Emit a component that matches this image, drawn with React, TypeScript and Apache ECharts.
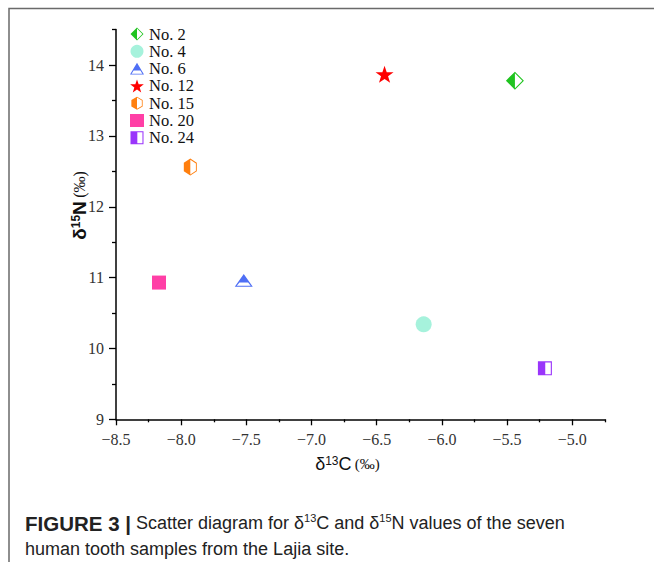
import React, { useEffect, useRef } from "react";
import * as echarts from "echarts";

// ---- data ----
const sampleNames = ["No. 2", "No. 4", "No. 6", "No. 12", "No. 15", "No. 20", "No. 24"];
const d13C = [-5.44, -6.14, -7.52, -6.44, -7.93, -8.17, -5.21];
const d15N = [13.78, 10.34, 10.96, 13.87, 12.56, 10.93, 9.72];
const xTicks = [-8.5, -8.0, -7.5, -7.0, -6.5, -6.0, -5.5, -5.0];
const yTicks = [9, 10, 11, 12, 13, 14];

// ---- styles ----
const sampleColors = ["#1fc41f", "#a6f2dc", "#4f6ff5", "#ff0000", "#ff7f0e", "#ff3fa6", "#9a35fb"];

function starPath(): string {
  const pts: string[] = [];
  for (let i = 0; i < 10; i++) {
    const r = i % 2 === 0 ? 10 : 3.9;
    const a = -Math.PI / 2 + (i * Math.PI) / 5;
    pts.push(`${(10 + r * Math.cos(a)).toFixed(2)} ${(10 + r * Math.sin(a)).toFixed(2)}`);
  }
  return "path://M" + pts.join("L") + "Z";
}

const diamondHalf = "path://M10 0L20 10L10 20L0 10Z M10 1.7L10 18.3L18.3 10Z";
const triangleHalf = "path://M10 0L20 17L0 17Z M5.2 11.2L2.3 15.7L17.7 15.7L14.8 11.2Z";
const hexHalf =
  "path://M8.66 0L17.32 5L17.32 15L8.66 20L0 15L0 5Z M8.66 1.4L8.66 18.6L16.12 14.31L16.12 5.69Z";
const squareHalf = "path://M0 0L20 0L20 20L0 20Z M10.5 1.6L10.5 18.4L18.4 18.4L18.4 1.6Z";

const sampleSymbols = [diamondHalf, "circle", triangleHalf, starPath(), hexHalf, "rect", squareHalf];
const sampleSizes: any[] = [[18, 18], 16, [18, 15], 18, [15, 17], 14, [14, 14]];

const SERIF = "'Liberation Serif', 'Times New Roman', serif";
const SANS = "'Liberation Sans', Arial, sans-serif";

const fmtNum = (v: number) => (v < 0 ? "\u2212" : "") + Math.abs(v).toFixed(1);

const nameRich = (bold: boolean, size: number) => ({
  d: { fontFamily: SANS, fontSize: size, color: "#111", fontWeight: bold ? "bold" : "normal" },
  s: {
    fontFamily: SANS,
    fontSize: Math.round(size * 0.65),
    color: "#111",
    verticalAlign: "top",
    lineHeight: Math.round(size * 0.75),
    fontWeight: bold ? "bold" : "normal",
  },
  p: { fontFamily: SERIF, fontSize: size - 3, color: "#111" },
});

const option: any = {
  animation: false,
  backgroundColor: "#ffffff",
  grid: { left: 116, right: 49, top: 29.6, bottom: 142.7, outerBoundsMode: "none", containLabel: false },
  legend: {
    orient: "vertical",
    left: 130,
    top: 25.5,
    padding: 0,
    itemWidth: 14,
    itemHeight: 13,
    itemGap: 0.3,
    itemTextGap: 6,
    textStyle: { fontFamily: SERIF, fontSize: 16.5, color: "#111" },
    data: sampleNames.map((n, i) => ({ name: n, icon: sampleSymbols[i] })),
  },
  xAxis: {
    type: "value",
    min: -8.5,
    max: -4.749,
    interval: 0.5,
    name: "{d|δ}{s|13}{d|C} {p|(‰)}",
    nameLocation: "middle",
    nameGap: 36,
    nameMoveOverlap: false,
    nameTextStyle: { rich: nameRich(false, 18), padding: [0, 26, 0, 0] },
    axisLine: { show: true, onZero: false, lineStyle: { color: "#000", width: 1.5 } },
    axisTick: { show: true, length: 6, customValues: xTicks, lineStyle: { color: "#000", width: 1.3 } },
    minorTick: { show: true, splitNumber: 2, length: 3, lineStyle: { color: "#000", width: 1.3 } },
    axisLabel: {
      customValues: xTicks,
      margin: 12,
      formatter: (v: number) => fmtNum(v),
      fontFamily: SERIF,
      fontSize: 16,
      color: "#333",
    },
    splitLine: { show: false },
    minorSplitLine: { show: false },
  },
  yAxis: {
    type: "value",
    min: 9,
    max: 14.501,
    interval: 1,
    name: "{d|δ}{s|15}{d|N} {p|(‰)}",
    nameLocation: "middle",
    nameRotate: 90,
    nameGap: 27,
    nameMoveOverlap: false,
    nameTextStyle: { rich: nameRich(true, 19), padding: [0, 0, 0, 38] },
    axisLine: { show: true, onZero: false, lineStyle: { color: "#000", width: 1.5 } },
    axisTick: { show: true, length: 7, customValues: yTicks, lineStyle: { color: "#000", width: 1.3 } },
    minorTick: { show: true, splitNumber: 2, length: 4, lineStyle: { color: "#000", width: 1.3 } },
    axisLabel: {
      customValues: yTicks,
      margin: 12,
      formatter: (v: number) => String(v),
      fontFamily: SERIF,
      fontSize: 16,
      color: "#333",
    },
    splitLine: { show: false },
    minorSplitLine: { show: false },
  },
  series: sampleNames.map((n, i) => ({
    type: "scatter",
    name: n,
    symbol: sampleSymbols[i],
    symbolSize: sampleSizes[i],
    symbolKeepAspect: true,
    itemStyle: { color: sampleColors[i], opacity: 1 },
    emphasis: { disabled: true },
    data: [[d13C[i], d15N[i]]],
  })),
  graphic: [
    {
      type: "rect",
      silent: true,
      z: -10,
      shape: { x: 9, y: 8.5, width: 700, height: 600 },
      style: { fill: "none", stroke: "#6a6a6a", lineWidth: 1.5 },
    },
    {
      type: "text",
      x: 25,
      y: 523,
      style: {
        text: "{b|FIGURE 3 |} Scatter diagram for δ{s|13}C and δ{s|15}N values of the seven",
        fontFamily: SANS,
        fontSize: 18,
        fill: "#222",
        verticalAlign: "middle",
        align: "left",
        rich: {
          b: { fontFamily: SANS, fontSize: 20.5, fontWeight: "bold", fill: "#222" },
          s: { fontFamily: SANS, fontSize: 11, fill: "#222", verticalAlign: "top", lineHeight: 13 },
        },
      },
    },
    {
      type: "text",
      x: 25,
      y: 549,
      style: {
        text: "human tooth samples from the Lajia site.",
        fontFamily: SANS,
        fontSize: 18,
        fill: "#222",
        verticalAlign: "middle",
        align: "left",
      },
    },
  ],
};

export default function App() {
  const ref = useRef<HTMLDivElement>(null);
  useEffect(() => {
    if (!ref.current) return;
    const chart = echarts.init(ref.current, undefined, { renderer: "svg" });
    chart.setOption(option);
    return () => chart.dispose();
  }, []);
  return (
    <div
      ref={ref}
      style={{ position: "absolute", left: 0, top: 0, width: 654, height: 562, background: "#fff" }}
    />
  );
}
